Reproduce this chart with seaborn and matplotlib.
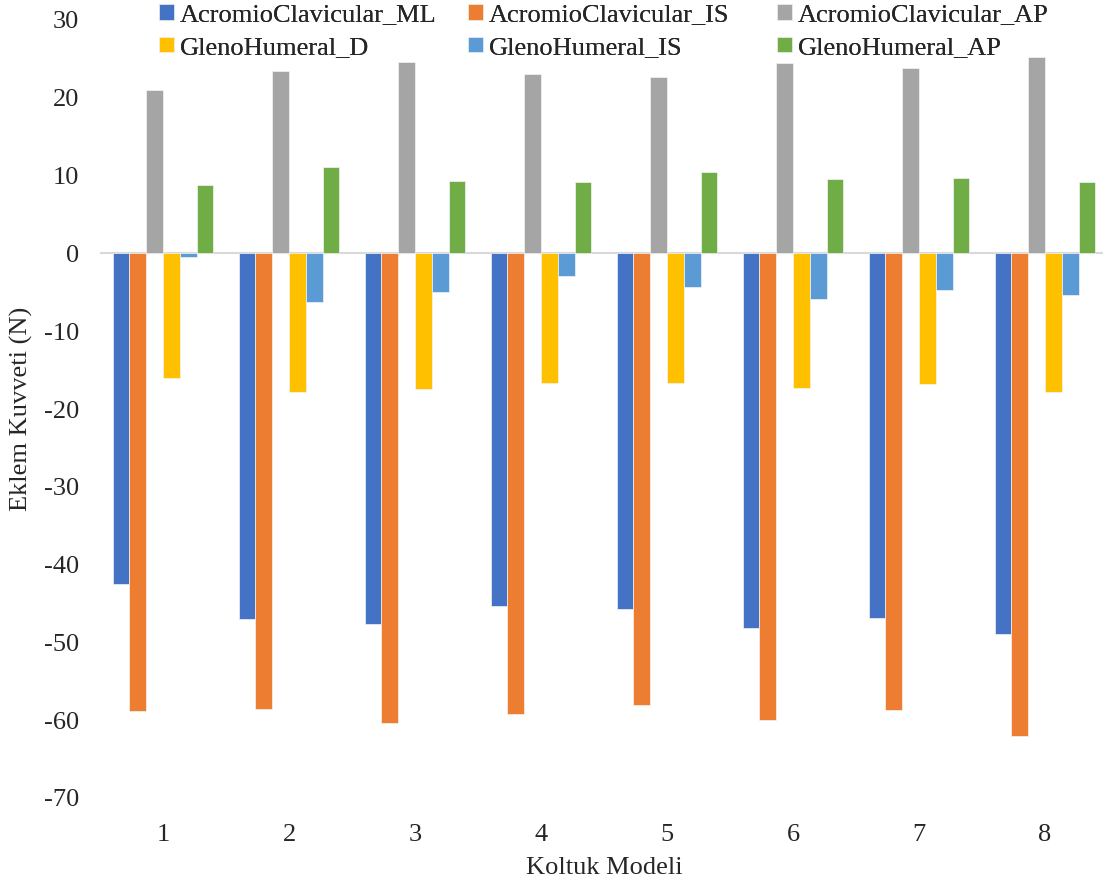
import numpy as np
import pandas as pd
import matplotlib
matplotlib.use("Agg")
import matplotlib.pyplot as plt
import seaborn as sns

# koltuk modelleri
models = ["1", "2", "3", "4", "5", "6", "7", "8"]

ac_ml = [-42.5, -47.0, -47.6, -45.3, -45.7, -48.1, -46.9, -48.9]
ac_is = [-58.8, -58.6, -60.4, -59.2, -58.0, -60.0, -58.7, -62.0]
ac_ap = [21.0, 23.5, 24.6, 23.1, 22.7, 24.5, 23.8, 25.3]
gh_d = [-16.0, -17.8, -17.4, -16.6, -16.6, -17.3, -16.8, -17.8]
gh_is = [-0.5, -6.3, -5.0, -2.9, -4.3, -5.9, -4.7, -5.4]
gh_ap = [8.8, 11.1, 9.3, 9.2, 10.4, 9.6, 9.7, 9.2]

series_names = ["AcromioClavicular_ML", "AcromioClavicular_IS", "AcromioClavicular_AP",
                "GlenoHumeral_D", "GlenoHumeral_IS", "GlenoHumeral_AP"]
colors = ["#4472C4", "#ED7D31", "#A5A5A5", "#FFC000", "#5B9BD5", "#70AD47"]

rows = []
for name, vals in zip(series_names, [ac_ml, ac_is, ac_ap, gh_d, gh_is, gh_ap]):
    for m, v in zip(models, vals):
        rows.append({"model": m, "series": name, "force": v})
df = pd.DataFrame(rows)

sns.set_style("white")
plt.rcParams["font.family"] = ["Liberation Serif", "DejaVu Serif"]
plt.rcParams["axes.unicode_minus"] = False
FS = 19

fig = plt.figure(figsize=(11.03, 8.82), dpi=100)
ax = fig.add_axes([100 / 1103, 1 - 798 / 882, 1008 / 1103, 778 / 882])

ax.axhline(0, color="#D9D9D9", lw=1.5, zorder=0)
sns.barplot(data=df, x="model", y="force", hue="series", hue_order=series_names,
            palette=colors, order=models, width=0.8, ax=ax, errorbar=None,
            saturation=1, edgecolor="#f4f4f4", linewidth=0.5, zorder=2)

ax.set_ylim(-70, 30)
ax.set_xlim(-0.5, 7.5)
ax.set_yticks(np.arange(-70, 31, 10))
ax.tick_params(axis="both", length=0, labelsize=FS)
ax.tick_params(axis="y", pad=15)
ax.tick_params(axis="x", pad=19)
for s in ax.spines.values():
    s.set_visible(False)

ax.set_xlabel("Koltuk Modeli", fontsize=FS)
ax.set_ylabel("Eklem Kuvveti (N)", fontsize=FS)
ax.xaxis.set_label_coords(0.5, -0.076)
ax.yaxis.set_label_coords(-0.066, 0.5)

handles, labels = ax.get_legend_handles_labels()
ax.get_legend().remove()
# Excel style legend: 3 equal columns, 2 rows
col_x = [159, 468, 777]
for c in range(3):
    hs = [handles[c], handles[c + 3]]
    ls = [labels[c], labels[c + 3]]
    leg = fig.legend(hs, ls, loc="upper left", bbox_to_anchor=(col_x[c] / 1103, 1 - 4 / 882),
                     ncol=1, frameon=False, fontsize=FS, handlelength=0.55,
                     handleheight=0.55, handletextpad=0.25, labelspacing=0.39,
                     borderaxespad=0.0, borderpad=0.0)
    fig.add_artist(leg)

fig.savefig("out.png", dpi=100)
